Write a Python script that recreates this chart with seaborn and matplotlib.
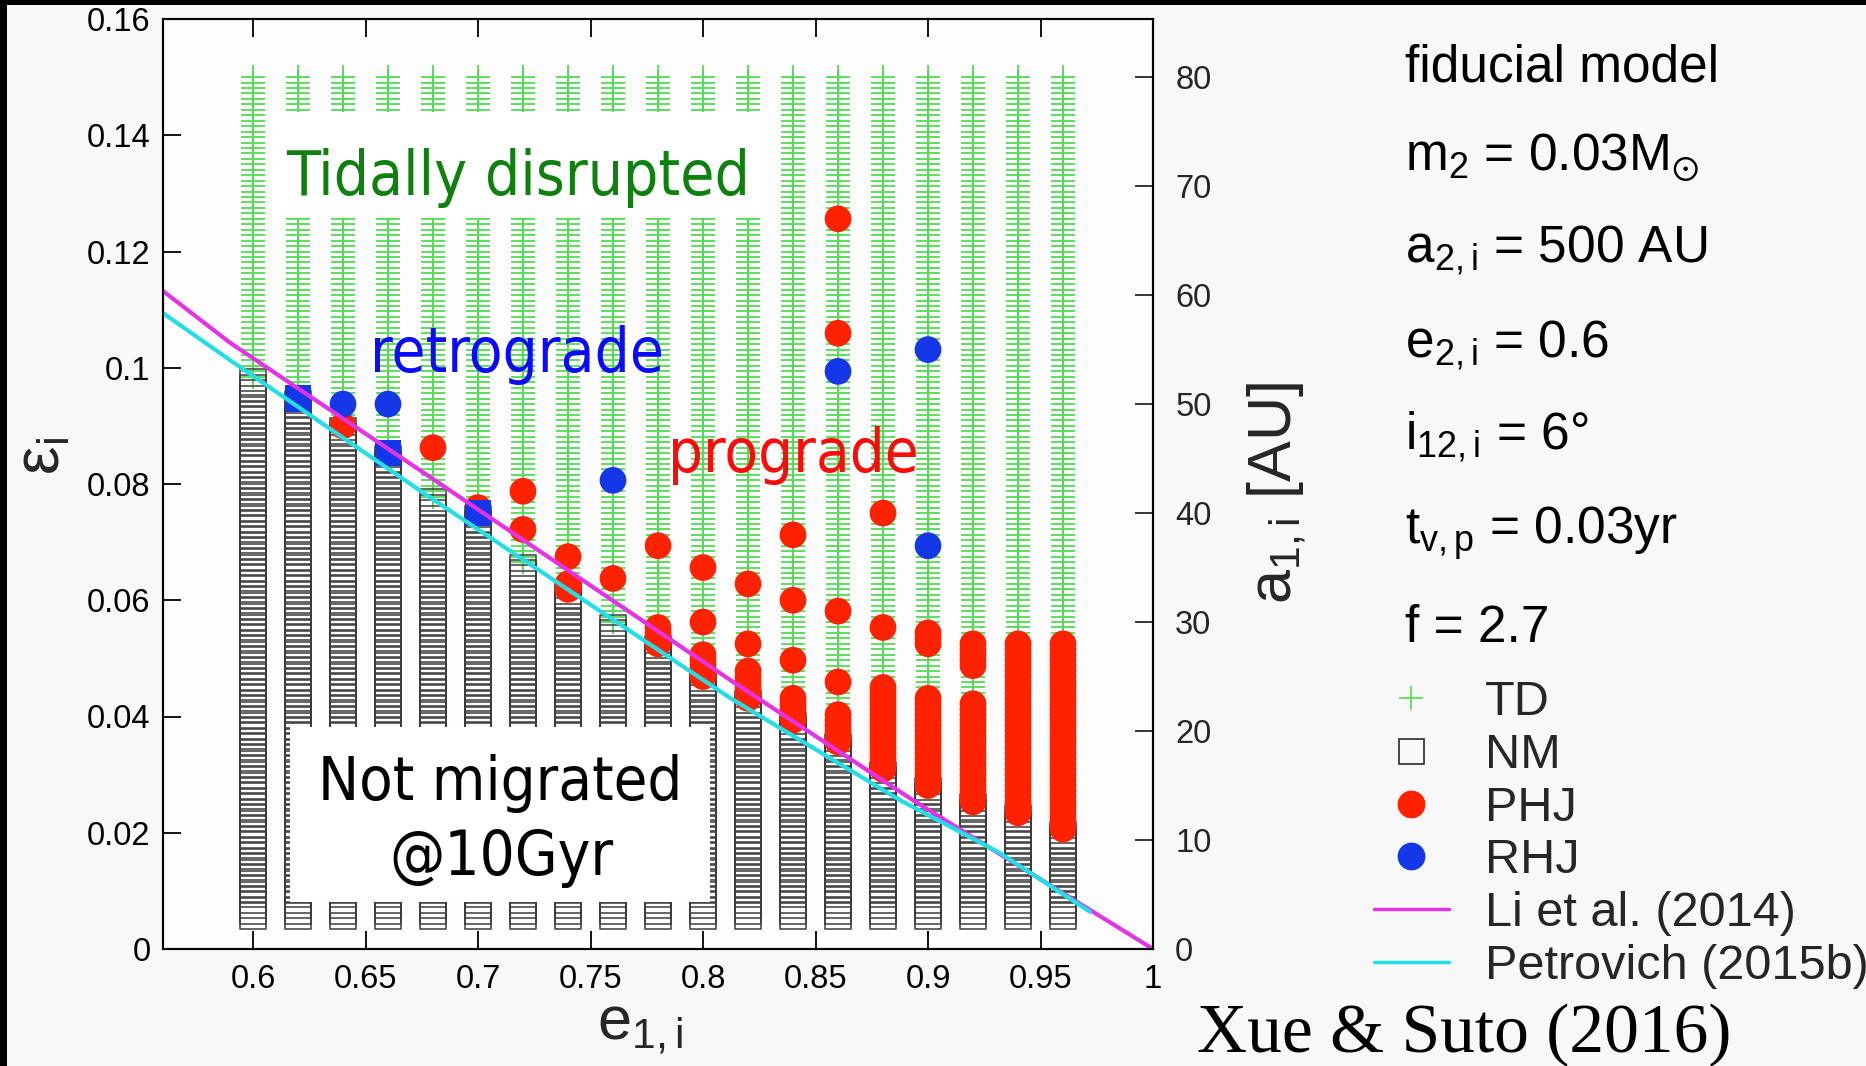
import numpy as np
import pandas as pd
import matplotlib
matplotlib.use("Agg")
import matplotlib.pyplot as plt
import seaborn as sns
from matplotlib.font_manager import FontProperties, fontManager
from matplotlib.patches import Rectangle
from matplotlib.lines import Line2D

# ---------------- data ----------------
e_columns = [0.60, 0.62, 0.64, 0.66, 0.68, 0.70, 0.72, 0.74, 0.76, 0.78,
             0.80, 0.82, 0.84, 0.86, 0.88, 0.90, 0.92, 0.94, 0.96]
# simulation grid in a_{1,i} [AU]
a1_grid_min = 3.0
a1_grid_max = 80.0
a1_grid_step = 0.5
# highest a_{1,i} that is "not migrated" in each column
nm_top = [52.0, 50.0, 47.5, 45.0, 41.0, 39.5, 35.0, 32.5, 29.5, 27.5,
          24.5, 22.5, 20.5, 18.5, 16.0, 14.5, 13.0, 12.0, 10.5]
# prograde hot Jupiters: isolated runs
phj_e = [0.64, 0.68, 0.70, 0.72, 0.72, 0.74, 0.74, 0.74, 0.76, 0.78,
         0.80, 0.80, 0.82, 0.82, 0.84, 0.84, 0.84, 0.86, 0.86, 0.86,
         0.86, 0.88, 0.88]
phj_a = [48.0, 46.0, 40.5, 42.0, 38.5, 36.0, 33.5, 33.0, 34.0, 37.0,
         35.0, 30.0, 33.5, 28.0, 38.0, 32.0, 26.5, 67.0, 56.5, 31.0,
         24.5, 40.0, 29.5]
# prograde hot Jupiters: contiguous runs of the grid
phj_range_e = [0.78, 0.80, 0.82, 0.84, 0.86, 0.88, 0.90, 0.90, 0.92, 0.92, 0.94, 0.96]
phj_range_lo = [28.0, 25.0, 23.0, 21.0, 19.0, 16.5, 28.0, 15.0, 26.0, 13.5, 12.5, 11.0]
phj_range_hi = [29.5, 27.0, 25.5, 23.0, 21.5, 24.0, 29.0, 23.0, 28.0, 22.5, 28.0, 28.0]
# retrograde hot Jupiters
rhj_e = [0.64, 0.66, 0.76, 0.86, 0.90, 0.90]
rhj_a = [50.0, 50.0, 43.0, 53.0, 55.0, 37.0]
rhj_sq_e = [0.62, 0.66, 0.70]
rhj_sq_a = [50.5, 45.5, 40.0]
# analytic boundaries
li_e = [0.56, 0.5898, 0.6787, 0.812, 0.8933, 1.0]
li_eps = [0.1132, 0.1043, 0.0812, 0.0463, 0.0256, 0.0]
pet_e = [0.56, 0.5898, 0.6756, 0.812, 0.8876, 0.932, 0.972]
pet_eps = [0.1094, 0.1013, 0.0785, 0.0432, 0.0256, 0.0165, 0.0064]
# outer orbit of the fiducial model
a2 = 500.0
e2 = 0.6

x_ticks = [0.6, 0.65, 0.7, 0.75, 0.8, 0.85, 0.9, 0.95, 1.0]
x_ticklabels = ["0.6", "0.65", "0.7", "0.75", "0.8", "0.85", "0.9", "0.95", "1"]
y_ticks = [0, 0.02, 0.04, 0.06, 0.08, 0.1, 0.12, 0.14, 0.16]
y_ticklabels = ["0", "0.02", "0.04", "0.06", "0.08", "0.1", "0.12", "0.14", "0.16"]
a_ticks = [0, 10, 20, 30, 40, 50, 60, 70, 80]
param_lines = ["fiducial model",
               r"m$_2$ = 0.03M$_{\odot}$",
               r"a$_{2,i}$ = 500 AU",
               r"e$_{2,i}$ = 0.6",
               r"i$_{12,i}$ = 6°",
               r"t$_{v,p}$ = 0.03yr",
               "f = 2.7"]
legend_labels = ["TD", "NM", "PHJ", "RHJ", "Li et al. (2014)", "Petrovich (2015b)"]

# ---------------- build table ----------------
conv = e2 / (1.0 - e2 ** 2) / a2          # epsilon per AU of a_{1,i}
grid_h = np.arange(int(round(a1_grid_min * 2)), int(round(a1_grid_max * 2)) + 1)

def key(e, a):
    return (int(round(e * 100)), int(round(a * 2)))

phj_set = {key(e, a) for e, a in zip(phj_e, phj_a)}
for e, lo, hi in zip(phj_range_e, phj_range_lo, phj_range_hi):
    for h in range(int(round(lo * 2)), int(round(hi * 2)) + 1):
        phj_set.add((int(round(e * 100)), h))
rhj_set = {key(e, a) for e, a in zip(rhj_e, rhj_a)}
rhjs_set = {key(e, a) for e, a in zip(rhj_sq_e, rhj_sq_a)}

rows = []
for e, top in zip(e_columns, nm_top):
    for h in grid_h:
        a = h / 2.0
        k = (int(round(e * 100)), int(h))
        if k in phj_set:
            cls = "PHJ"
        elif k in rhj_set:
            cls = "RHJ"
        elif k in rhjs_set:
            cls = "RHJs"
        elif a <= top + 1e-9:
            cls = "NM"
        else:
            cls = "TD"
        rows.append((e, a, a * conv, cls))
df = pd.DataFrame(rows, columns=["e1", "a1", "eps", "outcome"])

# ---------------- figure ----------------
W, H = 1866, 1066
sns.set_style("ticks")
plt.rcParams.update({
    "font.family": ["Liberation Sans", "DejaVu Sans"],
    "mathtext.fontset": "custom",
    "mathtext.rm": "Liberation Sans",
    "mathtext.it": "Liberation Sans:italic",
    "mathtext.bf": "Liberation Sans:bold",
    "mathtext.default": "regular",
    "axes.linewidth": 1.5,
})

fig = plt.figure(figsize=(W / 100, H / 100), dpi=100)
fig.patch.set_facecolor("#f8f8f8")

def fx(x):
    return x / W

def fy(y):
    return 1 - y / H

# thin dark frame strips of the original slide
fig.patches.append(Rectangle((0, fy(5)), 1, fy(0) - fy(5), transform=fig.transFigure,
                             facecolor="black", edgecolor="none", zorder=0))
fig.patches.append(Rectangle((0, 0), fx(7), 1, transform=fig.transFigure,
                             facecolor="black", edgecolor="none", zorder=0))

ax1 = fig.add_axes([fx(163), fy(949), fx(1153) - fx(163), fy(19) - fy(949)])
ax1.set_facecolor("#fdfdfd")

GREEN = "#52dc52"
RED = "#ff2200"
BLUE = "#1438e8"
MAG = "#e632e6"
CYAN = "#22dfe6"
NMC = "#3c3c3c"

sns.scatterplot(data=df[df.outcome == "TD"], x="e1", y="eps", ax=ax1, marker="+",
                s=300, color=GREEN, linewidth=1.3, zorder=2, legend=False)
sns.scatterplot(data=df[df.outcome == "NM"], x="e1", y="eps", ax=ax1, marker="s",
                s=350, color=NMC, edgecolor=NMC, linewidth=1.1,
                zorder=3, legend=False)
ax1.collections[-1].set_facecolor("none")
sns.scatterplot(data=df[df.outcome == "PHJ"], x="e1", y="eps", ax=ax1, marker="o",
                s=370, color=RED, edgecolor="none", linewidth=0, zorder=4, legend=False)
sns.scatterplot(data=df[df.outcome == "RHJ"], x="e1", y="eps", ax=ax1, marker="o",
                s=370, color=BLUE, edgecolor="none", linewidth=0, zorder=5, legend=False)
sns.scatterplot(data=df[df.outcome == "RHJs"], x="e1", y="eps", ax=ax1, marker="s",
                s=360, color=BLUE, edgecolor="none", linewidth=0, zorder=5, legend=False)

sns.lineplot(x=li_e, y=li_eps, ax=ax1, color=MAG, linewidth=3, sort=False,
             estimator=None, legend=False, zorder=6)
sns.lineplot(x=pet_e, y=pet_eps, ax=ax1, color=CYAN, linewidth=3, sort=False,
             estimator=None, legend=False, zorder=6)

ax1.set_xlim(0.56, 1.0)
ax1.set_ylim(0, 0.16)
ax1.set_xticks(x_ticks)
ax1.set_xticklabels(x_ticklabels)
ax1.set_yticks(y_ticks)
ax1.set_yticklabels(y_ticklabels)
ax1.tick_params(axis="both", direction="in", length=13, width=1.3, labelsize=23.5,
                colors="black")
ax1.tick_params(axis="x", top=True, pad=11)
ax1.tick_params(axis="y", right=False, pad=9)
ax1.set_xlabel(r"e$_{1,i}$", fontsize=44)
ax1.xaxis.set_label_coords(0.482, -0.055)
ax1.set_ylabel(r"ε$_{i}$", fontsize=46)
ax1.yaxis.set_label_coords(-0.091, 0.53)

ax2 = ax1.twinx()
ax2.set_ylim(0, 0.16 / conv)
ax2.set_yticks(a_ticks)
ax2.tick_params(axis="y", direction="in", length=13, width=1.3, labelsize=23.5, pad=16)
ax2.set_ylabel(r"a$_{1,i}$ [AU]", fontsize=44)
ax2.yaxis.set_label_coords(1.094, 0.49)
for ax in (ax1, ax2):
    for sp in ax.spines.values():
        sp.set_linewidth(1.5)
        sp.set_color("black")

# ---------------- annotations ----------------
cond = [f.fname for f in fontManager.ttflist if f.fname.endswith("DejaVuSansCondensed.ttf")]
annot_fp = FontProperties(fname=cond[0]) if cond else FontProperties(family="DejaVu Sans")

renderer = fig.canvas.get_renderer()

def fit_width(t, target):
    w = t.get_window_extent(renderer).width
    t.set_fontsize(t.get_fontsize() * target / w)

ax1.add_patch(Rectangle((fx(267), fy(218)), fx(760) - fx(267), fy(112) - fy(218),
                        transform=fig.transFigure, facecolor="white", edgecolor="none",
                        zorder=7, clip_on=False))
ax1.add_patch(Rectangle((fx(290), fy(902)), fx(710) - fx(290), fy(727) - fy(902),
                        transform=fig.transFigure, facecolor="white", edgecolor="none",
                        zorder=7, clip_on=False))

annots = [("Tidally disrupted", 286, 195, "left", "#0d800d", 464),
          ("retrograde", 370, 372, "left", "#0a0aff", 293),
          ("prograde", 668, 472, "left", "#ff0a0a", 250),
          ("Not migrated", 500, 800, "center", "black", 364),
          ("@10Gyr", 501, 875, "center", "black", 224)]
for s, x, y, ha, c, wt in annots:
    t = ax1.text(fx(x), fy(y), s, transform=fig.transFigure, ha=ha, va="baseline",
                 color=c, fontproperties=annot_fp, fontsize=40, zorder=8)
    fit_width(t, wt)

# parameter block
param_baselines = [82, 170, 262, 357, 449, 544, 642]
for s, yb in zip(param_lines, param_baselines):
    fig.text(fx(1405), fy(yb), s, ha="left", va="baseline", fontsize=37, color="black")

# legend
handles = [Line2D([], [], ls="none", marker="+", color=GREEN, markersize=17, mew=1.2),
           Line2D([], [], ls="none", marker="s", mfc="none", mec="#2a2a2a", markersize=18, mew=1.2),
           Line2D([], [], ls="none", marker="o", color=RED, markersize=19),
           Line2D([], [], ls="none", marker="o", color=BLUE, markersize=19),
           Line2D([], [], color=MAG, lw=2.5),
           Line2D([], [], color=CYAN, lw=2.5)]
fig.legend(handles, legend_labels, loc="upper left", bbox_to_anchor=(fx(1374), fy(680)),
           frameon=False, fontsize=35, handlelength=1.54, handletextpad=0.74,
           labelspacing=0.16, borderpad=0, borderaxespad=0, markerscale=1.0)

fig.text(fx(1197), fy(1052), "Xue & Suto (2016)", ha="left", va="baseline",
         fontsize=50, family="Liberation Serif", color="black")

fig.savefig("out.png", dpi=100, facecolor=fig.get_facecolor())
